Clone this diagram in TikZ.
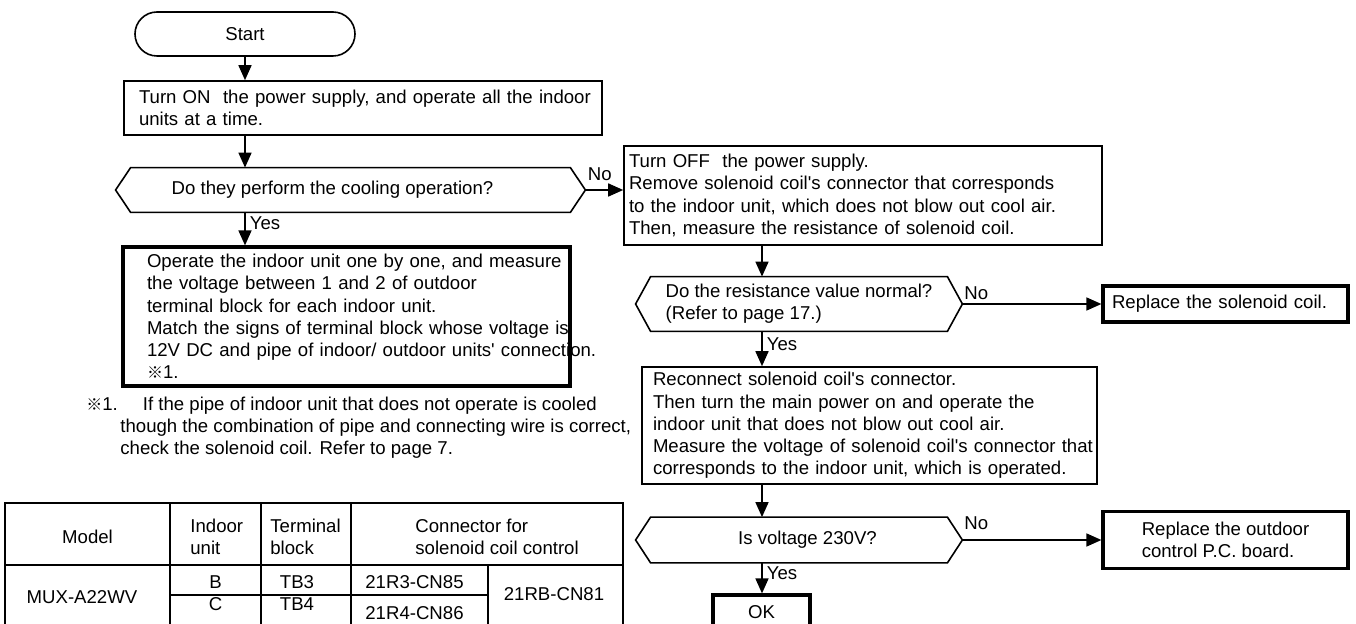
\documentclass[tikz,border=0pt]{standalone}
\usepackage{fontspec}
\setmainfont{Liberation Sans}
\newfontfamily\cjkfont{Noto Sans CJK JP}
\usetikzlibrary{arrows.meta, calc}
\newcommand{\refmark}{{\cjkfont\fontsize{8pt}{8pt}\selectfont ※}}
\newcommand{\sq}{\textquotesingle}
\newcommand{\hexframe}[1]{%
  \draw[line width=0.8pt] ($(#1.north west)+(15,0)$) -- ($(#1.north east)+(-15,0)$)
    -- (#1.east) -- ($(#1.south east)+(-15,0)$) -- ($(#1.south west)+(15,0)$)
    -- (#1.west) -- cycle;}

\begin{document}
\begin{tikzpicture}[x=0.5pt, y=-0.5pt, >={Triangle[length=7.5pt, width=6.5pt]},
  every node/.style={font=\fontsize{9.3pt}{11.15pt}\selectfont},
  stepbox/.style={draw, line width=0.8pt, align=left, inner ysep=0pt},
  heavybox/.style={stepbox, line width=1.6pt},
  query/.style={inner sep=0pt, align=left},
  flow/.style={->, line width=0.8pt},
  tabline/.style={line width=0.8pt},
  cell/.style={inner sep=0pt}]

\useasboundingbox (0,0) rectangle (1356,624);

% left column
\node[stepbox, rounded corners=11pt, minimum width=110pt, minimum height=22pt] (start) at (245,34) {Start};
\node[stepbox, text width=224pt, inner xsep=7.5pt, minimum height=27pt] (power) at (363,108)
  {\mbox{Turn ON\ \ the power supply, and operate all the indoor}\\units at a time.};
\node[query, minimum width=234.5pt, minimum height=22pt] (cool) at (350.5,190)
  {Do they perform the cooling operation?\hspace*{18pt}};
\hexframe{cool}
\node[heavybox, text width=199.5pt, inner xsep=12pt, minimum height=69.5pt] (match) at (346.5,316.5)
  {\mbox{Operate the indoor unit one by one, and measure}\\
   the voltage between 1 and 2 of outdoor\\
   terminal block for each indoor unit.\\
   \mbox{Match the signs of terminal block whose voltage is}\\
   \mbox{12V DC and pipe of indoor/ outdoor units\sq\ connection.}\\
   \refmark1.};
\node[anchor=west, align=left, inner sep=0pt] (note) at (86,427.5)
  {\refmark1.\hspace*{12.5pt}If the pipe of indoor unit that does not operate is cooled\\
   \hspace*{17pt}though the combination of pipe and connecting wire is correct,\\
   \hspace*{17pt}check the solenoid coil. Refer to page 7.};

\draw[flow] (start) -- (start |- power.north);
\draw[flow] (start |- power.south) -- (start |- cool.north);
\draw[flow] (start |- cool.south) -- node[right, pos=0.33, inner sep=2pt] {Yes} (start |- match.north);

% right column
\coordinate (rc) at (762,0);
\node[stepbox, text width=234pt, inner xsep=2.5pt, minimum height=49.5pt] (coiloff) at (863,195.5)
  {Turn OFF\ \ the power supply.\\
   Remove solenoid coil\sq s connector that corresponds\\
   to the indoor unit, which does not blow out cool air.\\
   Then, measure the resistance of solenoid coil.};
\node[query, minimum width=163pt, minimum height=27pt] (resist) at (799,304)
  {Do the resistance value normal?\\(Refer to page 17.)};
\hexframe{resist}
\node[heavybox, text width=113.5pt, inner xsep=4.5pt, minimum height=18pt] (swapcoil) at (1225.5,304)
  {Replace the solenoid coil.};
\node[stepbox, text width=216.5pt, inner xsep=5.5pt, minimum height=58.5pt] (recon) at (869.5,425.5)
  {Reconnect solenoid coil\sq s connector.\\
   Then turn the main power on and operate the\\
   indoor unit that does not blow out cool air.\\
   \mbox{Measure the voltage of solenoid coil\sq s connector that}\\
   \mbox{corresponds to the indoor unit, which is operated.}};
\node[query, minimum width=163pt, minimum height=22.5pt] (volt) at (799,540)
  {\hspace*{8.5pt}Is voltage 230V?};
\hexframe{volt}
\node[heavybox, minimum width=122.5pt, minimum height=28.5pt] (swapboard) at (1225.5,540)
  {Replace the outdoor\\control P.C. board.};
\node[heavybox, minimum width=48.5pt, minimum height=17pt] (ok) at (761.5,612) {OK};

\draw[flow] (cool.east) -- node[above, pos=0.38, inner sep=4.5pt] {No} (cool.east -| coiloff.west);
\draw[flow] (rc |- coiloff.south) -- (rc |- resist.north);
\draw[flow] (resist.east) -- node[above, pos=0.1, inner sep=2pt] {No} (swapcoil.west);
\draw[flow] (rc |- resist.south) -- node[right, pos=0.36, inner sep=2pt] {Yes} (rc |- recon.north);
\draw[flow] (rc |- recon.south) -- (rc |- volt.north);
\draw[flow] (volt.east) -- node[above, pos=0.1, inner sep=5pt] {No} (swapboard.west);
\draw[flow] (rc |- volt.south) -- node[right, pos=0.33, inner sep=2pt] {Yes} (rc |- ok.north);

% table
\draw[tabline] (5,503) rectangle (623,627);
\draw[tabline] (5,565) -- (623,565);
\foreach \cx in {170,261,351}
  \draw[tabline] (\cx,503) -- (\cx,627);
\draw[tabline] (488,565) -- (488,627);
\draw[tabline] (170,595) -- (488,595);
\node (hmodel) at (87.5,537) {Model};
\node[cell, anchor=west, align=left] (hunit) at (190,537) {Indoor\\unit};
\node[cell, anchor=west, align=left] (hblock) at (270,537) {Terminal\\block};
\node[cell, anchor=west, align=left] (hconn) at (415,537) {Connector for\\solenoid coil control};
\node (model) at (82,597) {MUX-A22WV};
\node (unitb) at (215.5,582) {B};
\node (tbb) at (297,582) {TB3};
\node[cell, anchor=west] (cnb) at (365,582) {21R3-CN85};
\node (unitc) at (215.5,604) {C};
\node (tbc) at (297,604) {TB4};
\node[cell, anchor=west] (cnc) at (365,613) {21R4-CN86};
\node (cnrb) at (554,594) {21RB-CN81};

\end{tikzpicture}
\end{document}
